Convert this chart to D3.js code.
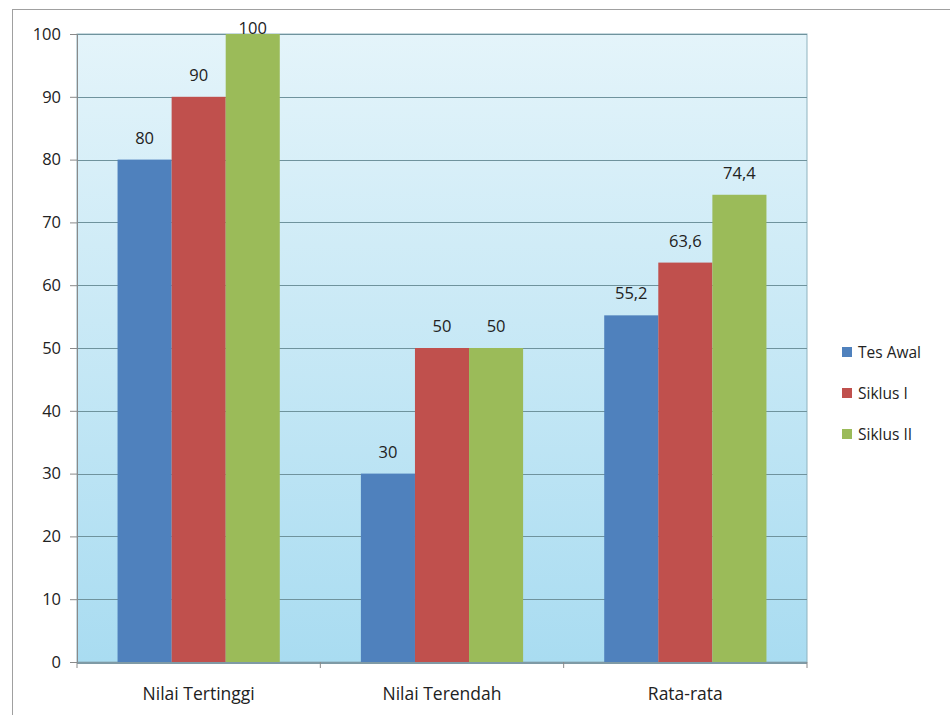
<!DOCTYPE html>
<html>
<head>
<meta charset="utf-8">
<script src="https://cdn.jsdelivr.net/npm/d3@7"></script>
<style>
  body { margin: 0; background: #fff; }
  svg { font-family: "Open Sans", "DejaVu Sans", sans-serif; }
</style>
</head>
<body>
<svg width="950" height="715"></svg>
<script>
const categories = ["Nilai Tertinggi", "Nilai Terendah", "Rata-rata"];
const seriesNames = ["Tes Awal", "Siklus I", "Siklus II"];
const tesAwal = [80, 30, 55.2];
const siklusI = [90, 50, 63.6];
const siklusII = [100, 50, 74.4];
const yTicks = [0, 10, 20, 30, 40, 50, 60, 70, 80, 90, 100];
const colors = ["#4f81bd", "#c0504d", "#9bbb59"];

const seriesValues = [tesAwal, siklusI, siklusII];
const svg = d3.select("svg");
const plotL = 77, plotR = 807, plotT = 34, plotB = 662;

const defs = svg.append("defs");
const grad = defs.append("linearGradient").attr("id", "bg")
  .attr("x1", 0).attr("y1", 0).attr("x2", 0).attr("y2", 1);
grad.append("stop").attr("offset", "0%").attr("stop-color", "#e4f4fa");
grad.append("stop").attr("offset", "100%").attr("stop-color", "#a9dcf1");

// outer frame
svg.append("rect").attr("x", 12.5).attr("y", 9.5).attr("width", 960).attr("height", 720)
  .attr("fill", "none").attr("stroke", "#a0a0a0");

const x0 = d3.scaleBand().domain(categories).range([plotL, plotR]).paddingInner(0).paddingOuter(0);
const x1 = d3.scaleBand().domain(seriesNames).range([0, x0.bandwidth()]).paddingOuter(0.75).paddingInner(0);
const y = d3.scaleLinear().domain([0, 100]).range([plotB, plotT]);

svg.append("rect").attr("x", plotL).attr("y", plotT).attr("width", plotR - plotL).attr("height", plotB - plotT)
  .attr("fill", "url(#bg)").attr("stroke", "#8fb3bf").attr("stroke-width", 1);

// gridlines
svg.append("g").selectAll("line").data(yTicks.filter(d => d > 0)).join("line")
  .attr("x1", plotL).attr("x2", plotR)
  .attr("y1", d => Math.round(y(d)) + 0.5).attr("y2", d => Math.round(y(d)) + 0.5)
  .attr("stroke", "#6f939d").attr("stroke-width", 1.2);

// bars
const groups = svg.append("g").selectAll("g").data(categories).join("g")
  .attr("transform", c => `translate(${x0(c)},0)`);
groups.selectAll("rect").data((c, i) => seriesNames.map((s, j) => ({ s, j, v: seriesValues[j][i] })))
  .join("rect")
  .attr("x", d => x1(d.s)).attr("width", x1.bandwidth())
  .attr("y", d => y(d.v)).attr("height", d => y(0) - y(d.v))
  .attr("fill", d => colors[d.j]);
groups.selectAll("text").data((c, i) => seriesNames.map((s, j) => ({ s, j, v: seriesValues[j][i] })))
  .join("text")
  .attr("x", d => x1(d.s) + x1.bandwidth() / 2)
  .attr("y", d => y(d.v) - (d.v === 100 ? 0 : 16))
  .attr("text-anchor", "middle")
  .attr("font-size", 16.5).attr("fill", "#222")
  .text(d => String(d.v).replace(".", ","));

// y axis
const yAxis = svg.append("g").attr("transform", `translate(${plotL},0)`)
  .call(d3.axisLeft(y).tickValues(yTicks).tickSize(7).tickPadding(9));
yAxis.select(".domain").attr("stroke", "#8a8a8a");
yAxis.selectAll(".tick line").attr("stroke", "#8a8a8a");
yAxis.selectAll("text").attr("font-size", 16.5).attr("fill", "#222").attr("font-family", "Open Sans");

// x axis
const xAxis = svg.append("g").attr("transform", `translate(0,${plotB})`);
xAxis.append("line").attr("x1", plotL).attr("x2", plotR).attr("y1", 1).attr("y2", 1)
  .attr("stroke", "#7f9aa5").attr("stroke-width", 2);
xAxis.selectAll(".sep").data([plotL, ...categories.map(c => x0(c) + x0.bandwidth())]).join("line")
  .attr("x1", d => d).attr("x2", d => d).attr("y1", 0).attr("y2", 6)
  .attr("stroke", "#8a8a8a");
xAxis.selectAll("text").data(categories).join("text")
  .attr("x", c => x0(c) + x0.bandwidth() / 2).attr("y", 38)
  .attr("text-anchor", "middle").attr("font-size", 17.5).attr("fill", "#222")
  .text(c => c);

// legend
const legend = svg.append("g").attr("transform", "translate(842,352)");
legend.selectAll("rect").data(seriesNames).join("rect")
  .attr("x", 0).attr("y", (d, i) => i * 41 - 5).attr("width", 10).attr("height", 10)
  .attr("fill", (d, i) => colors[i]);
legend.selectAll("text").data(seriesNames).join("text")
  .attr("x", 16).attr("y", (d, i) => i * 41 + 6)
  .attr("font-size", 15.5).attr("fill", "#222")
  .text(d => d);
</script>
</body>
</html>
